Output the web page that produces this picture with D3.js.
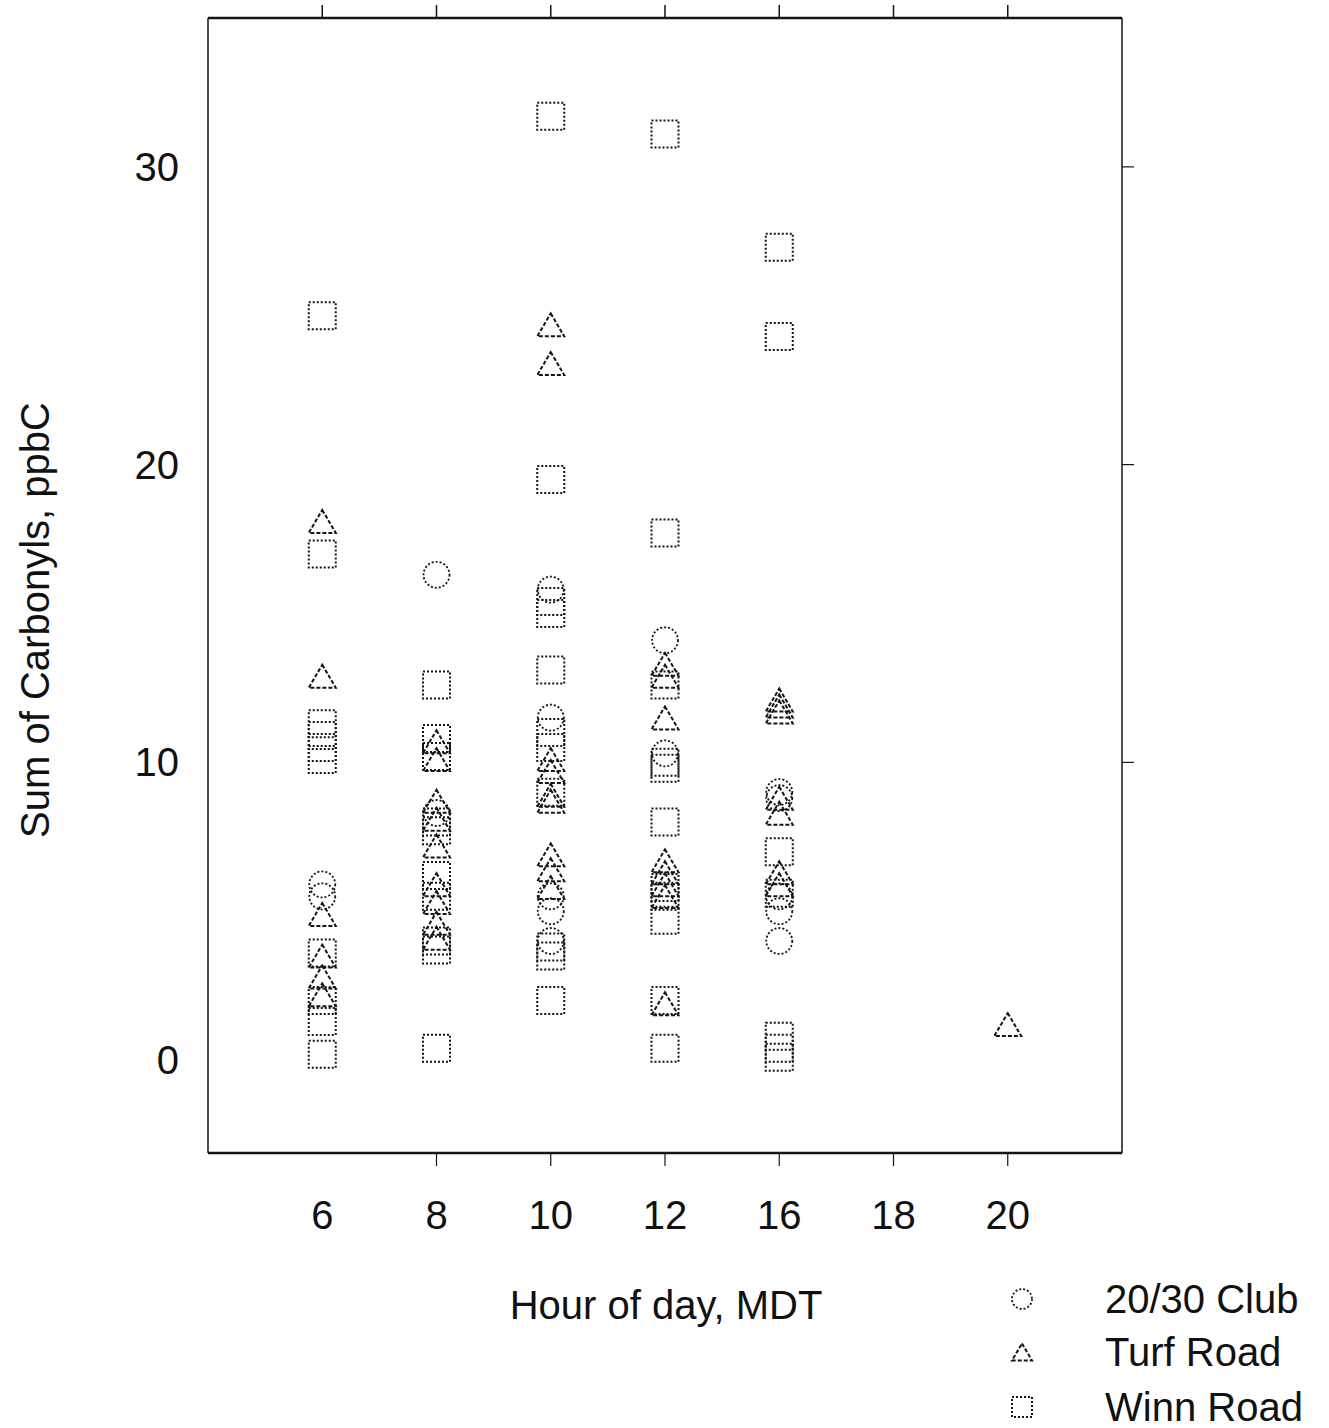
<!DOCTYPE html>
<html><head><meta charset="utf-8">
<script src="https://cdn.jsdelivr.net/npm/d3@7"></script>
<style>body{margin:0;background:#fff;} text{font-family:"Liberation Sans",Arial,sans-serif;fill:#111;}</style>
</head><body>
<svg id="c" width="1329" height="1428"></svg>
<script>
const hours = ["6","8","10","12","16","18","20"];
const yTicks = [0,10,20,30];
const seriesNames = ["20/30 Club","Turf Road","Winn Road"];
const clubHour = ["6","6","8","8","10","10","10","10","10","12","12","16","16","16","16","16"];
const clubVal  = [5.9,5.5,16.3,8.3,15.8,11.5,5.5,5.0,4.0,14.1,10.3,9.0,8.8,5.5,5.0,4.0];
const turfHour = ["6","6","6","6","6","6","8","8","8","8","8","8","8","8","8","10","10","10","10","10","10","10","10","10","12","12","12","12","12","12","12","12","16","16","16","16","16","16","16","20"];
const turfVal  = [18.0,12.8,4.8,3.4,2.7,2.1,10.6,10.0,8.6,8.0,7.1,5.8,5.2,4.5,4.0,24.6,23.3,10.0,9.6,8.8,8.6,6.8,6.3,5.7,13.2,12.8,11.4,6.6,6.2,5.8,5.4,1.8,12.0,11.8,11.6,8.7,8.2,6.2,5.8,1.1];
const winnHour = ["6","6","6","6","6","6","6","6","6","6",
                  "8","8","8","8","8","8","8","8","8","8",
                  "10","10","10","10","10","10","10","10","10","10","10",
                  "12","12","12","12","12","12","12","12","12","12","12",
                  "16","16","16","16","16","16","16"];
const winnVal  = [25.0,17.0,11.3,10.9,10.5,10.1,3.6,2.0,1.3,0.2,
                  12.6,10.8,10.2,8.0,7.7,6.2,5.5,4.0,3.7,0.4,
                  31.7,19.5,15.4,15.0,13.1,11.0,10.5,9.0,3.8,3.5,2.0,
                  31.1,17.7,12.6,10.0,9.8,8.0,5.8,5.5,4.7,2.0,0.4,
                  27.3,24.3,7.0,5.6,0.8,0.4,0.1];

const svg = d3.select("#c");
const L=208,R=1122,T=18,B=1153;
const x = d3.scalePoint().domain(hours).range([L,R]).padding(1);
const y = d3.scaleLinear().domain([-3.12,35.0]).range([B,T]);
const ink="#151515";
const FS=40;
// frame
svg.append("line").attr("x1",L).attr("x2",R).attr("y1",T).attr("y2",T).attr("stroke",ink).attr("stroke-width",2.5);
svg.append("line").attr("x1",L).attr("x2",R).attr("y1",B).attr("y2",B).attr("stroke",ink).attr("stroke-width",2.5);
svg.append("line").attr("x1",L).attr("x2",L).attr("y1",T).attr("y2",B).attr("stroke",ink).attr("stroke-width",1.5);
svg.append("line").attr("x1",R).attr("x2",R).attr("y1",T).attr("y2",B).attr("stroke",ink).attr("stroke-width",1.5);
// top ticks
svg.append("g").selectAll("line").data(hours).join("line")
 .attr("x1",d=>x(d)).attr("x2",d=>x(d)).attr("y1",T).attr("y2",T-13).attr("stroke",ink).attr("stroke-width",1.5);
// bottom ticks (none at 6 in the original)
svg.append("g").selectAll("line").data(hours.slice(1)).join("line")
 .attr("x1",d=>x(d)).attr("x2",d=>x(d)).attr("y1",B).attr("y2",B+13).attr("stroke",ink).attr("stroke-width",1.2);
// right ticks
svg.append("g").selectAll("line").data(yTicks.slice(1)).join("line")
 .attr("x1",R).attr("x2",R+12).attr("y1",d=>y(d)).attr("y2",d=>y(d)).attr("stroke",ink).attr("stroke-width",1.2);
// tick labels
svg.append("g").selectAll("text").data(hours).join("text")
 .attr("x",d=>x(d)).attr("y",1229).attr("text-anchor","middle").attr("font-size",FS).text(d=>d);
svg.append("g").selectAll("text").data(yTicks).join("text")
 .attr("x",179).attr("y",d=>y(d)+14).attr("text-anchor","end").attr("font-size",FS).text(d=>d);
// axis titles
svg.append("text").attr("x",666).attr("y",1319).attr("text-anchor","middle").attr("font-size",FS).text("Hour of day, MDT");
svg.append("text").attr("transform","translate(49,620) rotate(-90)").attr("text-anchor","middle").attr("font-size",FS).text("Sum of Carbonyls, ppbC");
// markers
const dash="2,2";
function circle(g,cx,cy,r){g.append("circle").attr("cx",cx).attr("cy",cy).attr("r",r).attr("fill","none").attr("stroke",ink).attr("stroke-width",1.8).attr("stroke-dasharray",dash);}
function tri(g,cx,cy,s){const h=s*0.85;g.append("path").attr("d",`M${cx},${cy-h*0.62}L${cx+s/2},${cy+h*0.38}L${cx-s/2},${cy+h*0.38}Z`).attr("fill","none").attr("stroke",ink).attr("stroke-width",2).attr("stroke-dasharray","4,2");}
function sq(g,cx,cy,s){g.append("rect").attr("x",cx-s/2).attr("y",cy-s/2).attr("width",s).attr("height",s).attr("fill","none").attr("stroke",ink).attr("stroke-width",2).attr("stroke-dasharray",dash);}
const gm=svg.append("g");
winnHour.forEach((h,i)=>sq(gm,x(h),y(winnVal[i]),27));
clubHour.forEach((h,i)=>circle(gm,x(h),y(clubVal[i]),13));
turfHour.forEach((h,i)=>tri(gm,x(h),y(turfVal[i]),27));
// legend
const lg=svg.append("g");
const ly=[1299,1352,1407];
circle(lg,1022,ly[0],10); tri(lg,1022,ly[1]+2,20); sq(lg,1022,ly[2],20);
lg.selectAll("text").data(seriesNames).join("text").attr("x",1105).attr("y",(d,i)=>ly[i]+14).attr("font-size",FS).text(d=>d);
</script>
</body></html>
